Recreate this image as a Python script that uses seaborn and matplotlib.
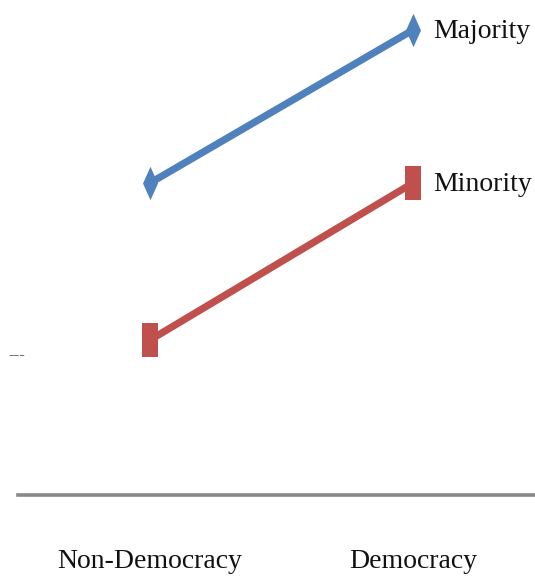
import matplotlib
matplotlib.use("Agg")
import matplotlib.pyplot as plt
from matplotlib.path import Path
import seaborn as sns
import pandas as pd

# Regime types on the x axis and the two group series
categories = ["Non-Democracy", "Democracy"]
majority = [3.12, 4.65]
minority = [1.55, 3.12]
series_names = ["Majority", "Minority"]

df = pd.DataFrame({
    "regime": categories * 2,
    "value": majority + minority,
    "group": [series_names[0]] * 2 + [series_names[1]] * 2,
})

sns.set_theme(style="white")
plt.rcParams["font.family"] = ["Liberation Serif", "DejaVu Serif"]

blue = "#4F81BD"
red = "#C0504D"

# Tall, narrow marker shapes
diamond = Path([(0, 1), (0.45, 0), (0, -1), (-0.45, 0), (0, 1)],
               [Path.MOVETO, Path.LINETO, Path.LINETO, Path.LINETO, Path.CLOSEPOLY])
rect = Path([(-0.5, -1), (0.5, -1), (0.5, 1), (-0.5, 1), (-0.5, -1)],
            [Path.MOVETO, Path.LINETO, Path.LINETO, Path.LINETO, Path.CLOSEPOLY])

fig = plt.figure(figsize=(5.35, 5.82), dpi=100)
ax = fig.add_axes([18 / 535, 87 / 582, 517 / 535, 485 / 582])

sns.lineplot(data=df, x="regime", y="value", hue="group", style="group",
             palette={"Majority": blue, "Minority": red},
             markers={"Majority": diamond, "Minority": rect},
             dashes=False, sort=False, linewidth=5.2, markersize=24,
             markeredgewidth=0, legend=False, ax=ax)

ax.set_xlim(-0.502, 1.464)
ax.set_ylim(0, 4.85)

# Series labels at the right end of each line
for name, vals in [("Majority", majority), ("Minority", minority)]:
    ax.annotate(name, xy=(1, vals[-1]), xytext=(14.5, -5.5), textcoords="offset points",
                ha="left", va="baseline", fontsize=20, color="#111111")

for s in ["top", "right", "left"]:
    ax.spines[s].set_visible(False)
ax.spines["bottom"].set_color("#888888")
ax.spines["bottom"].set_linewidth(2.6)

ax.set_yticks([])
ax.set_xlabel("")
ax.set_ylabel("")
ax.tick_params(axis="x", length=0, pad=39, labelsize=20, labelcolor="#111111")

fig.text(8 / 535, 1 - 355 / 582, "---", fontsize=12, color="#444444",
         ha="left", va="center")

fig.savefig("out.png", dpi=100, facecolor="white")
